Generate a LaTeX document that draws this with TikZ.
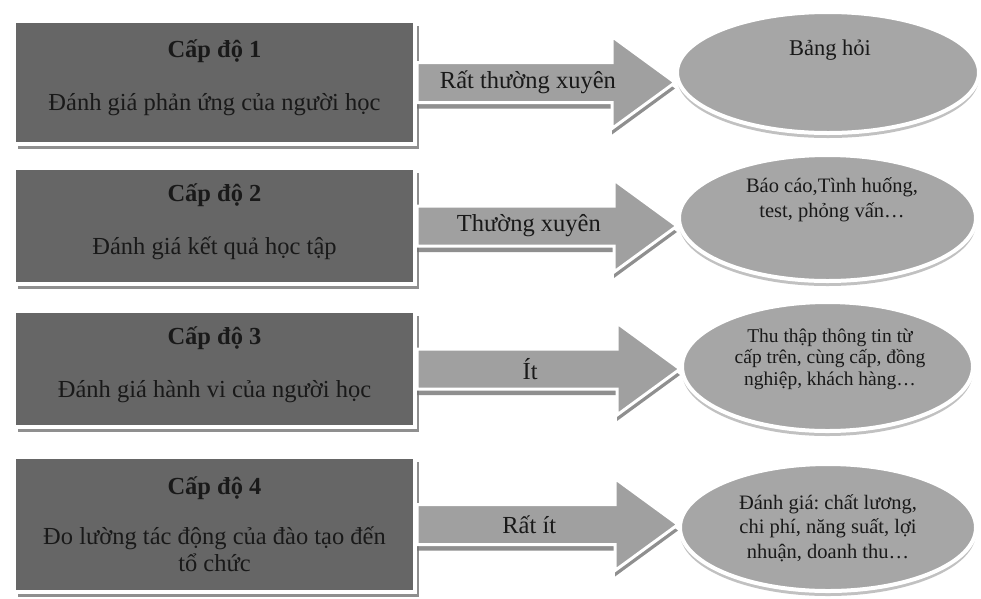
\documentclass[tikz,border=0pt]{standalone}
\usepackage{fontspec}
\setmainfont{Liberation Serif}
\frenchspacing
\usetikzlibrary{shapes.geometric,calc,shadows}

\definecolor{levelgray}{RGB}{102,102,102}
\definecolor{arrowgray}{RGB}{160,160,160}
\definecolor{ovalgray}{RGB}{166,166,166}
\definecolor{inkgray}{RGB}{25,25,25}

\tikzset{
  level/.style={rectangle, fill=levelgray, draw=white, line width=4pt,
    minimum width=401pt, align=center, text=inkgray,
    font=\fontsize{24.5}{27}\selectfont,
    drop shadow={shadow xshift=4pt, shadow yshift=-5pt, fill=black!55, opacity=0.8}},
  oval/.style={ellipse, fill=ovalgray, draw=white, line width=4pt,
    drop shadow={shadow xshift=0pt, shadow yshift=-5pt, fill=black!40, opacity=0.6}},
  ovaltext/.style={align=center, text=inkgray, font=\fontsize{20.5}{24.5}\selectfont},
  bigarrow/.style={fill=arrowgray, draw=white, line width=3pt, line join=miter,
    drop shadow={shadow xshift=0pt, shadow yshift=-6pt, fill=black!55, opacity=0.8}},
  arrowlabel/.style={text=inkgray, font=\fontsize{24.5}{27}\selectfont},
}

% #1 from, #2 to, #3 label, #4 label name
\newcommand{\fatarrow}[4]{%
  \path (#1.east -| #2.west) coordinate (tip);
  \filldraw[bigarrow] ($(#1.east)+(0,20)$) -- ($(tip)+(-63,20)$) -- ($(tip)+(-63,46)$)
    -- (tip) -- ($(tip)+(-63,-46)$) -- ($(tip)+(-63,-20)$) -- ($(#1.east)+(0,-20)$) -- cycle;
  \path (#1.east) -- (tip) node[pos=0.43, arrowlabel] (#4) {#3};
}

\begin{document}
\begin{tikzpicture}[x=1pt,y=1pt]

    \useasboundingbox (0,0) rectangle (981,-598);
    \fill[white] (0,0) rectangle (981,-598);

    \node[level, minimum height=123pt, text depth=14pt] (lvl1) at (214.5,-82.5)
      {\textbf{Cấp độ 1}\\[26pt] Đánh giá phản ứng của người học};
    \node[level, minimum height=116pt, text depth=14pt] (lvl2) at (214.5,-226)
      {\textbf{Cấp độ 2}\\[26pt] Đánh giá kết quả học tập};
    \node[level, minimum height=116pt, text depth=14pt] (lvl3) at (214.5,-369)
      {\textbf{Cấp độ 3}\\[26pt] Đánh giá hành vi của người học};
    \node[level, minimum height=135pt] (lvl4) at (214.5,-524.5)
      {\textbf{Cấp độ 4}\\[23pt] Đo lường tác động của đào tạo đến\\ tổ chức};

    \node[oval, minimum width=302pt, minimum height=121pt] (ell1) at (828,-72.5) {};
    \node[oval, minimum width=297pt, minimum height=126pt] (ell2) at (827.5,-218) {};
    \node[oval, minimum width=291pt, minimum height=129pt] (ell3) at (827.5,-366.5) {};
    \node[oval, minimum width=296pt, minimum height=127pt] (ell4) at (828,-527.5) {};

    \node[ovaltext, font=\fontsize{22.5}{26}\selectfont] (ell1text) at (830,-50) {Bảng hỏi};
    \node[ovaltext] (ell2text) at (832,-200) {Báo cáo,Tình huống,\\ test, phỏng vấn…};
    \node[ovaltext, font=\fontsize{19.5}{21.5}\selectfont] (ell3text) at (830,-359)
      {Thu thập thông tin từ\\ cấp trên, cùng cấp, đồng\\ nghiệp, khách hàng…};
    \node[ovaltext] (ell4text) at (828,-528)
      {Đánh giá: chất lương,\\ chi phí, năng suất, lợi\\ nhuận, doanh thu…};

    \fatarrow{lvl1}{ell1}{Rất thường xuyên}{freq1}
    \fatarrow{lvl2}{ell2}{Thường xuyên}{freq2}
    \fatarrow{lvl3}{ell3}{Ít}{freq3}
    \fatarrow{lvl4}{ell4}{Rất ít}{freq4}

\end{tikzpicture}
\end{document}
